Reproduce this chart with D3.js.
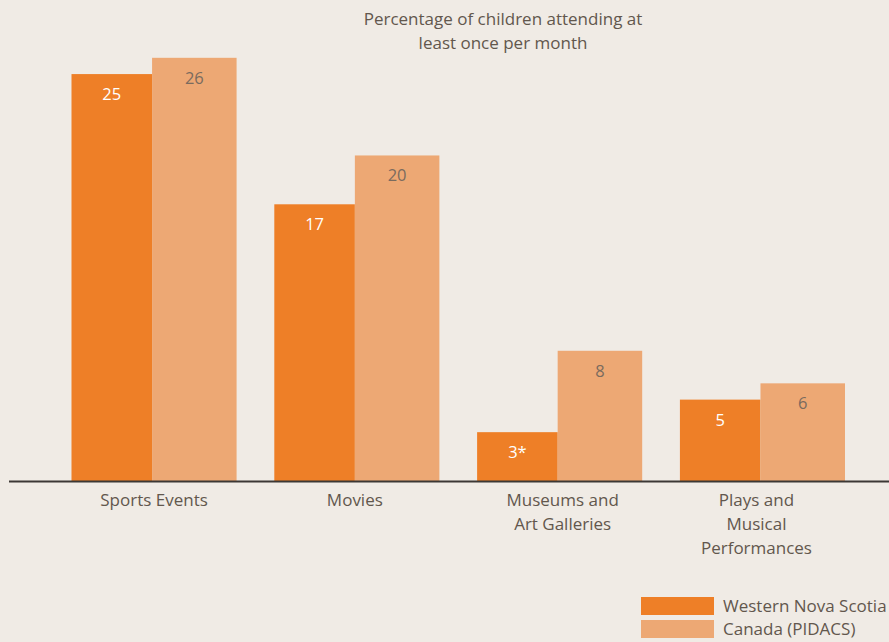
<!DOCTYPE html>
<html>
<head>
<meta charset="utf-8">
<script src="https://cdn.jsdelivr.net/npm/d3@7"></script>
<style>
  html, body { margin: 0; padding: 0; background: #F0EBE5; }
  svg { display: block; }
  text { font-family: "Open Sans", "Noto Sans", sans-serif; }
</style>
</head>
<body>
<svg id="chart" width="889" height="642"></svg>
<script>
// Attendance at events, children attending at least once per month (%)
const categories = [
  ["Sports Events"],
  ["Movies"],
  ["Museums and", "Art Galleries"],
  ["Plays and", "Musical", "Performances"]
];
const seriesNames = ["Western Nova Scotia", "Canada (PIDACS)"];
const westernNovaScotia = [25, 17, 3, 5];
const canada = [26, 20, 8, 6];
const valueLabels = [
  ["25", "17", "3*", "5"],
  ["26", "20", "8", "6"]
];
const titleLines = ["Percentage of children attending at", "least once per month"];

const colors = ["#EE7F27", "#EDA874"];
const labelColors = ["#FFFFFF", "#7A6B5E"];
const textColor = "#62574D";

const W = 889, H = 642;
const svg = d3.select("#chart");

const catKeys = categories.map(c => c.join(" "));
const series = [westernNovaScotia, canada];

const x0 = d3.scaleBand()
  .domain(catKeys)
  .range([71.5, 845])
  .paddingInner(0.186)
  .paddingOuter(0);

// first series bar is slightly narrower than the second
const split = 0.488;
const x1 = d3.scaleOrdinal().domain([0, 1]).range([0, split]);
const wFrac = [split, 1 - split];

const y = d3.scaleLinear().domain([0, 26]).range([481, 57.8]);

// bars
series.forEach((vals, si) => {
  svg.append("g").selectAll("rect")
    .data(vals)
    .join("rect")
    .attr("x", (d, i) => x0(catKeys[i]) + x1(si) * x0.bandwidth())
    .attr("width", wFrac[si] * x0.bandwidth())
    .attr("y", d => y(d))
    .attr("height", d => y(0) - y(d))
    .attr("fill", colors[si]);

  svg.append("g").selectAll("text")
    .data(vals)
    .join("text")
    .attr("x", (d, i) => x0(catKeys[i]) + (x1(si) + wFrac[si] / 2) * x0.bandwidth())
    .attr("y", d => y(d) + 26)
    .attr("text-anchor", "middle")
    .attr("font-size", 16.5)
    .attr("fill", labelColors[si])
    .text((d, i) => valueLabels[si][i]);
});

// baseline axis
const xAxis = d3.axisBottom(x0).tickSize(0).tickFormat("");
const axisG = svg.append("g").attr("transform", `translate(0,${y(0)})`).call(xAxis);
axisG.select(".domain").remove();
axisG.append("line")
  .attr("x1", 9).attr("x2", W)
  .attr("y1", 0.5).attr("y2", 0.5)
  .attr("stroke", "#3C3835")
  .attr("stroke-width", 2);

// category labels (slight nudges keep multi-line labels balanced under their bars)
const labelNudge = [0, -2, 3, -6];
categories.forEach((lines, i) => {
  const cx = x0(catKeys[i]) + x0.bandwidth() / 2 + labelNudge[i];
  const t = svg.append("text")
    .attr("x", cx)
    .attr("y", 506)
    .attr("text-anchor", "middle")
    .attr("font-size", 17)
    .attr("fill", textColor);
  lines.forEach((l, j) => {
    t.append("tspan")
      .attr("x", cx)
      .attr("dy", j === 0 ? 0 : 24)
      .text(l);
  });
});

// title
const title = svg.append("text")
  .attr("x", 503)
  .attr("y", 25)
  .attr("text-anchor", "middle")
  .attr("font-size", 17)
  .attr("fill", textColor);
titleLines.forEach((l, j) => {
  title.append("tspan").attr("x", 503).attr("dy", j === 0 ? 0 : 24).text(l);
});

// legend
const legend = svg.append("g").attr("transform", "translate(641,597)");
seriesNames.forEach((name, i) => {
  const g = legend.append("g").attr("transform", `translate(0,${i * 23})`);
  g.append("rect").attr("width", 73).attr("height", 18).attr("fill", colors[i]);
  g.append("text")
    .attr("x", 82).attr("y", 15)
    .attr("font-size", 17)
    .attr("fill", textColor)
    .text(name);
});
</script>
</body>
</html>
